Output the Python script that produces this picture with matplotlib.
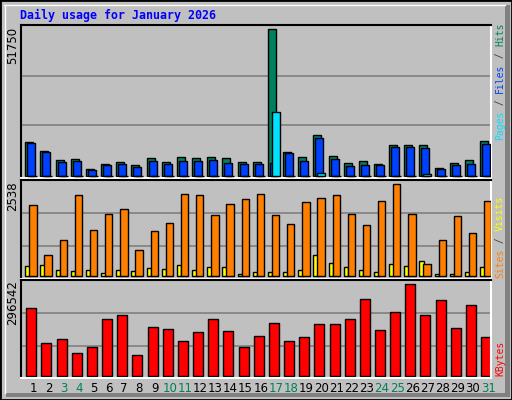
import matplotlib
matplotlib.use("Agg")
import matplotlib.pyplot as plt
from matplotlib.patches import Rectangle
from matplotlib.lines import Line2D
import numpy as np

days = list(range(1, 32))
hits = [11890, 8714, 5539, 5892, 2364, 4128, 4833, 3775, 6245, 4833, 6597, 6245, 6597, 6245, 4833, 4833,
        51750, 8361, 6597, 14359, 6950, 4481, 5186, 4128, 10831, 10831, 10831, 2717, 4481, 5539, 12242]
files = [11537, 8361, 4833, 5186, 2011, 3775, 4128, 3069, 5186, 4128, 5186, 5186, 5539, 4481, 4128, 4128,
         4586, 8009, 5186, 13300, 5892, 3422, 3775, 3775, 10125, 10125, 9773, 2364, 3775, 4128, 11184]
pages = [150]*16 + [22470, 150, 150, 950] + [150]*6 + [600] + [150]*4
visits = [1961, 586, 999, 2236, 1274, 1713, 1851, 724, 1246, 1466, 2263, 2236, 1686, 1988, 2126, 2263,
          1686, 1438, 2043, 2153, 2236, 1713, 1411, 2071, 2538, 1713, 339, 999, 1658, 1191, 2071]
sites = [284, 312, 174, 147, 174, 92, 174, 147, 229, 202, 312, 174, 257, 257, 64, 119, 119, 119, 174,
         586, 366, 257, 174, 119, 339, 284, 421, 64, 64, 119, 257]
kbytes = [218620, 104980, 117970, 72510, 91990, 182910, 195890, 66020, 156930, 150440, 111480, 140700,
          182910, 143950, 91990, 127710, 169920, 111480, 124460, 166670, 166670, 182910, 247850, 147190,
          205640, 296542, 195890, 244600, 153690, 228370, 124460]
weekend = [3, 4, 10, 11, 17, 18, 24, 25, 31]
title = "Daily usage for January 2026"

W, H = 512, 400
fig = plt.figure(figsize=(W/100, H/100), dpi=100)
fig.patch.set_facecolor("#c0c0c0")

def fx(px): return px / W
def fy(py): return 1 - py / H

fig.add_artist(Rectangle((0, 0), 1, 1, transform=fig.transFigure, fill=False, ec="black", lw=2))
fig.add_artist(Rectangle((fx(505), fy(397)), fx(5), fy(5) - fy(397), transform=fig.transFigure, fc="#808080", ec="none"))
fig.add_artist(Rectangle((fx(6), fy(397)), fx(504), fy(393) - fy(397), transform=fig.transFigure, fc="#808080", ec="none"))
fig.add_artist(Line2D([fx(4), fx(505)], [fy(5), fy(5)], transform=fig.transFigure, color="white", lw=1))
fig.add_artist(Line2D([fx(5), fx(5)], [fy(5), fy(393)], transform=fig.transFigure, color="white", lw=1))

fig.text(fx(20), fy(15), title, color="#0000ff", fontsize=8.4, fontweight="bold",
         family="DejaVu Sans Mono", va="center", ha="left")

L, R = 21, 491
def mkax(top, bot):
    ax = fig.add_axes([fx(L), fy(bot), fx(R) - fx(L), fy(top) - fy(bot)])
    ax.set_facecolor("#c0c0c0")
    ax.set_xlim(0.5, 31.5)
    for s in ("left", "top"):
        ax.spines[s].set_color("black")
    for s in ("right", "bottom"):
        ax.spines[s].set_color("white")
    for s in ax.spines.values():
        s.set_linewidth(1.5)
    ax.set_xticks([]); ax.set_yticks([])
    return ax

d = np.array(days, dtype=float)
pxd = (R - L) / 31.0

ax1 = mkax(25, 178)
u = 352.8
ax1.set_ylim(-2*u, 151*u)
for g in (51*u, 100*u):
    ax1.axhline(g, color="#808080", lw=1.2, zorder=0)
b0 = d - 0.5 + 4.3/pxd
w = 8/pxd
ax1.bar(b0, hits, w, align="edge", color="#00805c", ec="black", lw=1, zorder=2)
ax1.bar(b0 + 2/pxd, files, w, align="edge", color="#0040ff", ec="black", lw=1, zorder=3)
ax1.bar(b0 + 4/pxd, pages, w, align="edge", color="#00e0ff", ec="black", lw=1, zorder=4)

ax2 = mkax(180, 279)
u2 = 27.47
ax2.set_ylim(-2.6*u2, 96.7*u2)
for g in (30.4*u2, 63.4*u2):
    ax2.axhline(g, color="#808080", lw=1.2, zorder=0)
ax2.bar(b0, sites, 4.5/pxd, align="edge", color="#ffff00", ec="black", lw=1, zorder=2)
ax2.bar(b0 + 4/pxd, visits, 7.3/pxd, align="edge", color="#ff8000", ec="black", lw=1, zorder=3)

ax3 = mkax(280, 378)
u3 = 3248
ax3.set_ylim(-2.3*u3, 95.7*u3)
for g in (29.7*u3, 62.3*u3):
    ax3.axhline(g, color="#808080", lw=1.2, zorder=0)
ax3.bar(d - 0.5 + 5.3/pxd, kbytes, 10/pxd, align="edge", color="#ff0000", ec="black", lw=1, zorder=2)

for day in days:
    fig.text(fx(L + (day - 0.5) * pxd + 4.7), fy(388), str(day), fontsize=8.5,
             color="#00805c" if day in weekend else "black", ha="center", va="center")

fig.text(fx(13), fy(27), "51750", rotation=90, fontsize=8.5, ha="center", va="top")
fig.text(fx(13), fy(181), "2538", rotation=90, fontsize=8.5, ha="center", va="top")
fig.text(fx(13), fy(280), "296542", rotation=90, fontsize=8.5, ha="center", va="top")

FS = 7
step = 0.602 * FS * 100 / 72
mono = dict(rotation=90, fontsize=FS, family="DejaVu Sans Mono", ha="center", va="bottom")
def rlabel(y, parts):
    yy = y
    for txt, col in parts:
        fig.text(fx(500), fy(yy), txt, color=col, **mono)
        yy -= len(txt) * step
rlabel(140, [("Pages", "#00e0ff"), (" / ", "#404040"), ("Files", "#0040ff"), (" / ", "#404040"), ("Hits", "#00805c")])
rlabel(278, [("Sites", "#ff8000"), (" / ", "#404040"), ("Visits", "#ffff00")])
rlabel(376, [("KBytes", "#ff0000")])

fig.savefig("out.png", dpi=100, facecolor=fig.get_facecolor())
